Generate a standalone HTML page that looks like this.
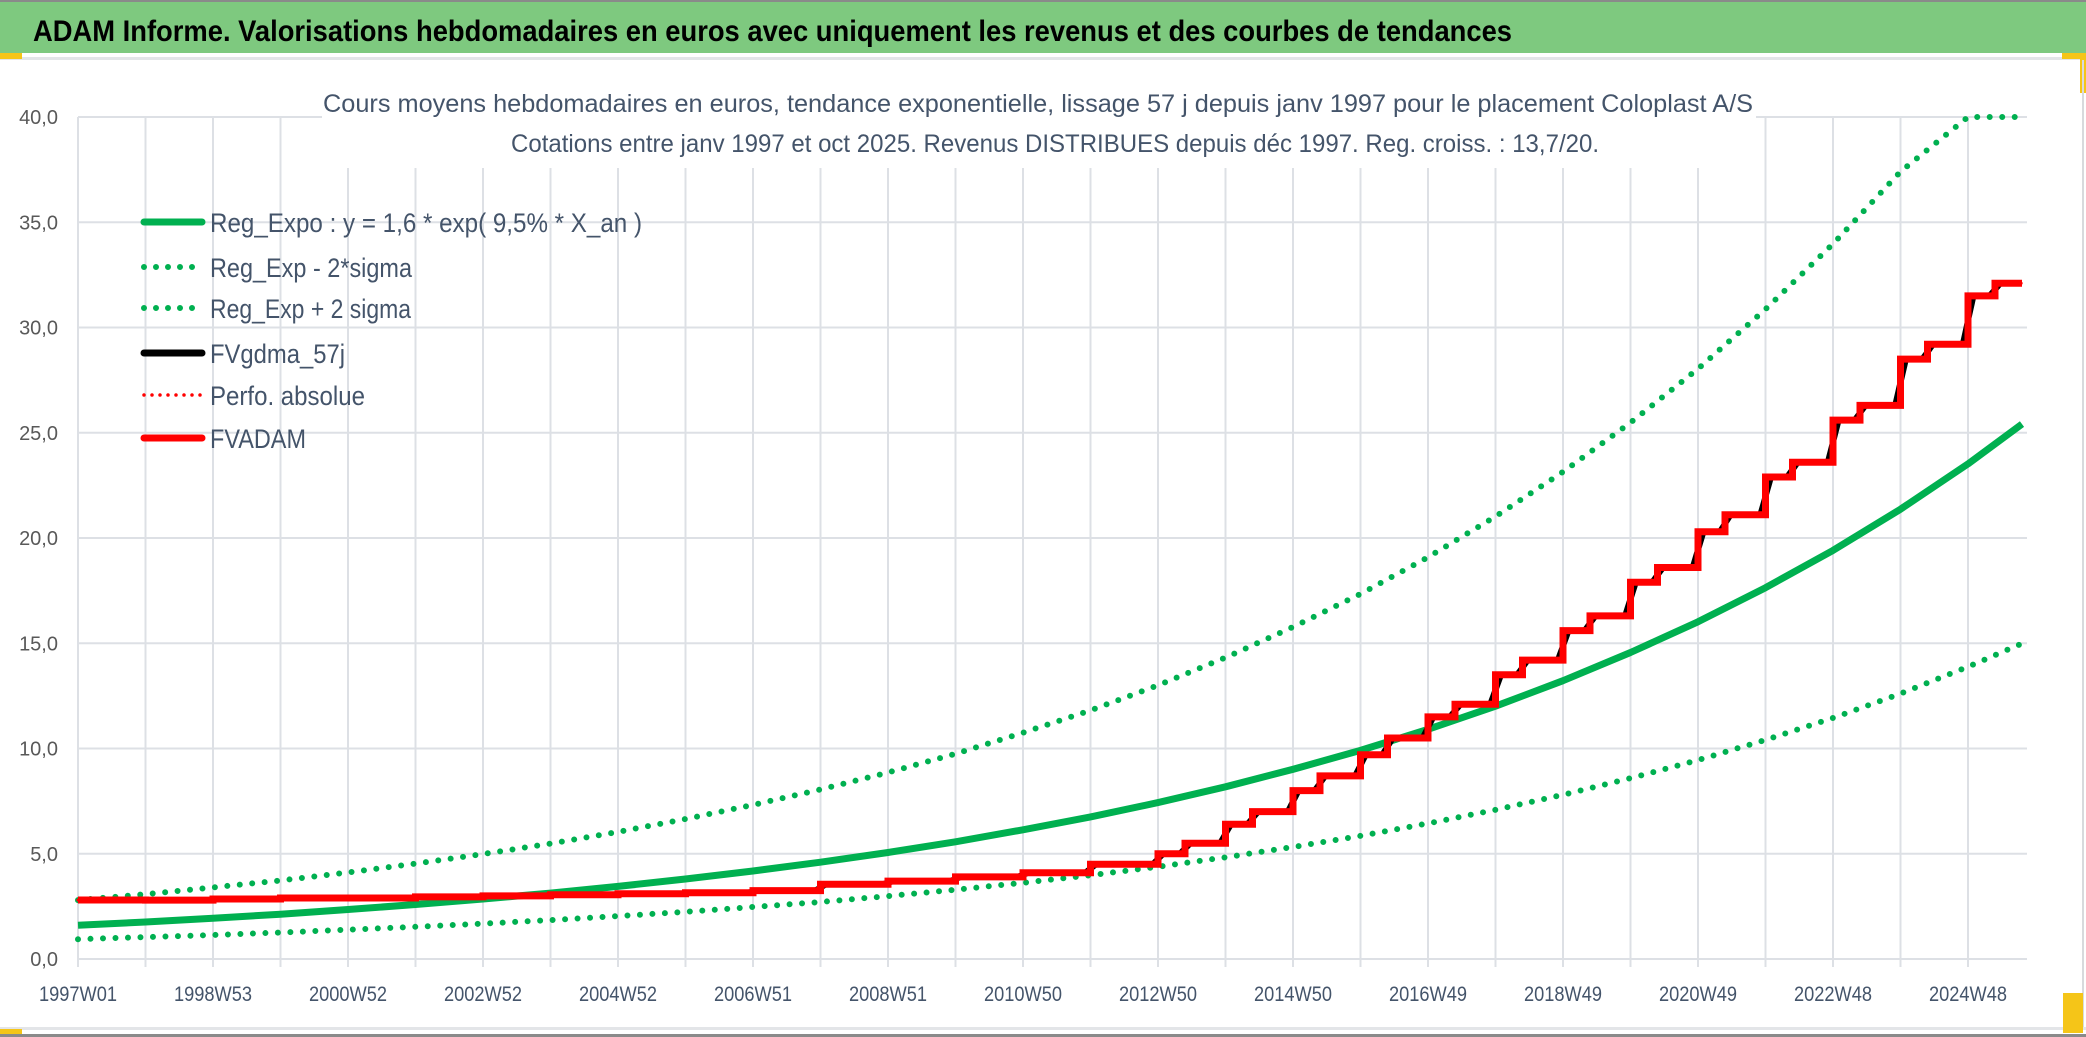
<!DOCTYPE html>
<html><head><meta charset="utf-8">
<style>
html,body{margin:0;padding:0;background:#fff;}
svg{display:block;font-family:"Liberation Sans",sans-serif;}
</style></head>
<body>
<svg id="chart" width="2086" height="1037" viewBox="0 0 2086 1037" xmlns="http://www.w3.org/2000/svg">
  <rect x="0" y="0" width="2086" height="1037" fill="#fff"/>
  <rect x="0" y="0" width="2086" height="53" fill="#7EC97F"/>
  <rect x="0" y="0" width="2086" height="2" fill="#8a8a8a"/>
  <rect x="0" y="57" width="2086" height="3" fill="#E3E5E8"/>
  <rect x="0" y="53" width="22" height="6" fill="#F5C518"/>
  <rect x="2062" y="53" width="24" height="6" fill="#F5C518"/>
  <rect x="2080" y="53" width="6" height="40" fill="#F5C518"/>
  <rect x="2082" y="60" width="2" height="970" fill="#D8DADD"/>
  <rect x="0" y="1027" width="2086" height="3" fill="#E3E5E8"/>
  <rect x="0" y="1034" width="2086" height="3" fill="#8a8a8a"/>
  <rect x="0" y="1029" width="22" height="5" fill="#F5C518"/>
  <rect x="2063" y="993" width="20" height="40" fill="#F5C518"/>
  <text x="33" y="41" font-size="30" font-weight="bold" fill="#000" textLength="1479" lengthAdjust="spacingAndGlyphs">ADAM Informe. Valorisations hebdomadaires en euros avec uniquement les revenus et des courbes de tendances</text>
  <g id="grid"></g>
  <rect x="322" y="86" width="1434" height="82" fill="#fff"/>
  <text x="323" y="112" font-size="25" fill="#44546A" textLength="1430" lengthAdjust="spacingAndGlyphs">Cours moyens hebdomadaires en euros, tendance exponentielle, lissage 57 j depuis janv 1997 pour le placement Coloplast A/S</text>
  <text x="511" y="152" font-size="25" fill="#44546A" textLength="1088" lengthAdjust="spacingAndGlyphs">Cotations entre janv 1997 et oct 2025. Revenus DISTRIBUES depuis déc 1997. Reg. croiss. : 13,7/20.</text>
  <g id="axes"></g>
  <g id="series"></g>
  <g id="legend"></g>
</svg>
<script>
// ---- data ----
const trendYears = [0,1,2,3,4,5,6,7,8,9,10,11,12,13,14,15,16,17,18,19,20,21,22,23,24,25,26,27,28,28.8];
const regExpo = [1.60,1.76,1.94,2.13,2.35,2.59,2.85,3.13,3.45,3.80,4.18,4.60,5.06,5.57,6.14,6.75,7.43,8.18,9.01,9.91,10.91,12.01,13.22,14.56,16.02,17.64,19.41,21.37,23.52,25.41];
const regPlus = [2.80,3.08,3.40,3.73,4.11,4.53,4.99,5.48,6.04,6.65,7.32,8.05,8.86,9.75,10.75,11.81,13.00,14.32,15.77,17.34,19.09,21.02,23.14,25.48,28.04,30.87,33.97,37.40,40.0,40.0];
const regMinus = [0.94,1.04,1.14,1.26,1.39,1.53,1.68,1.85,2.04,2.24,2.47,2.71,2.99,3.29,3.62,3.98,4.38,4.83,5.32,5.85,6.44,7.09,7.80,8.59,9.45,10.41,11.45,12.61,13.88,14.99];
const stepTimes = [0,1,2,3,4,5,6,7,8,9,10,11,12,13,14,15,16,16.4,17,17.4,18,18.4,19,19.4,20,20.4,21,21.4,22,22.4,23,23.4,24,24.4,25,25.4,26,26.4,27,27.4,28,28.4];
const stepValues = [2.80,2.80,2.85,2.90,2.90,2.95,3.00,3.05,3.10,3.15,3.25,3.55,3.70,3.90,4.10,4.50,5.00,5.50,6.40,7.00,8.00,8.70,9.70,10.50,11.50,12.10,13.50,14.20,15.60,16.30,17.90,18.60,20.30,21.10,22.90,23.60,25.60,26.30,28.50,29.20,31.50,32.10];
const endTime = 28.8;
const yTicks = [0,5,10,15,20,25,30,35,40];
const yTickLabels = ["0,0","5,0","10,0","15,0","20,0","25,0","30,0","35,0","40,0"];
const xTickYears = [0,2,4,6,8,10,12,14,16,18,20,22,24,26,28];
const xTickLabels = ["1997W01","1998W53","2000W52","2002W52","2004W52","2006W51","2008W51","2010W50","2012W50","2014W50","2016W49","2018W49","2020W49","2022W48","2024W48"];

// ---- axes ----
const X0 = 78, PXY = 67.5, XR = 2027, Y0 = 959, PXV = 21.05;
const sx = t => X0 + t * PXY;
const sy = v => Y0 - v * PXV;
const NS = "http://www.w3.org/2000/svg";
function mk(tag, attrs, parent){ const e=document.createElementNS(NS,tag); for(const k in attrs) e.setAttribute(k,attrs[k]); parent.appendChild(e); return e; }

const grid = document.getElementById('grid');
for (let k = 0; k <= 28; k++) {
  const l = mk('line',{x1:sx(k),x2:sx(k),y1:sy(40),y2:Y0+8,stroke:'#DDE0E5','stroke-width':2},grid);
  
  
}
yTicks.forEach(v => {
  const l = mk('line',{x1:X0,x2:XR,y1:sy(v),y2:sy(v),stroke:'#DDE0E5','stroke-width':2},grid);
  
  
});
const axes = document.getElementById('axes');
yTicks.forEach((v,i) => {
  const t = mk('text',{x:58,y:sy(v)+7,'font-size':20,fill:'#595959','text-anchor':'end'},axes);
  t.textContent = yTickLabels[i];
  
  
});
xTickYears.forEach((v,i) => {
  const t = mk('text',{x:sx(v)-39,y:1001,'font-size':21,fill:'#44546A',textLength:78,lengthAdjust:'spacingAndGlyphs'},axes);
  t.textContent = xTickLabels[i];
  
  
});

// ---- series ----
const ser = document.getElementById('series');
function pts(xs, ys){ return xs.map((t,i)=>sx(t).toFixed(1)+','+sy(ys[i]).toFixed(1)).join(' '); }
const pm = mk('polyline',{points:pts(trendYears,regMinus),fill:'none',stroke:'#00B050','stroke-width':6,'stroke-linecap':'round','stroke-dasharray':'0 12.5'},ser);


const pp = mk('polyline',{points:pts(trendYears,regPlus),fill:'none',stroke:'#00B050','stroke-width':6,'stroke-linecap':'round','stroke-dasharray':'0 12.5'},ser);


const pr = mk('polyline',{points:pts(trendYears,regExpo),fill:'none',stroke:'#00B050','stroke-width':7,'stroke-linejoin':'round'},ser);



function stepAt(t){ let v=stepValues[0]; for(let i=0;i<stepTimes.length;i++){ if(stepTimes[i]<=t) v=stepValues[i]; } return v; }
const wk = 1/52.18, win = 57/365;
const bx=[], by=[];
for(let t=0;t<=endTime+1e-9;t+=wk){
  let s=0,n=0;
  for(let u=Math.max(0,t-win/2);u<=Math.min(endTime,t+win/2)+1e-9;u+=wk/4){ s+=stepAt(u); n++; }
  bx.push(t); by.push(s/n);
}
const bl = mk('polyline',{points:pts(bx,by),fill:'none',stroke:'#000','stroke-width':6,'stroke-linejoin':'round'},ser);


let d = 'M'+sx(stepTimes[0])+','+sy(stepValues[0]);
for(let i=1;i<stepTimes.length;i++){ d+=' H'+sx(stepTimes[i]).toFixed(1)+' V'+sy(stepValues[i]).toFixed(1); }
d += ' H'+sx(endTime).toFixed(1);
const pa = mk('path',{d:d,fill:'none',stroke:'#FF0000','stroke-width':3,'stroke-dasharray':'0 8','stroke-linecap':'round'},ser);


const fr = mk('path',{d:d,fill:'none',stroke:'#FF0000','stroke-width':7,'stroke-linejoin':'miter'},ser);



// ---- legend ----
const lg = document.getElementById('legend');
const legNames = ["Reg_Expo : y = 1,6 * exp( 9,5% *  X_an )","Reg_Exp - 2*sigma","Reg_Exp + 2 sigma","FVgdma_57j","Perfo. absolue","FVADAM"];
const legWidths = [432,202,201,135,155,96];
const legY = [222,267,308,353,395,438];
const legStyles = [
  {stroke:'#00B050',w:7,dash:null},{stroke:'#00B050',w:6,dash:'0 12'},{stroke:'#00B050',w:6,dash:'0 12'},
  {stroke:'#000',w:7,dash:null},{stroke:'#FF0000',w:3.5,dash:'0 8'},{stroke:'#FF0000',w:7,dash:null}];
legNames.forEach((nm,i)=>{
  const g = mk('g',{},lg);
  
  
  const s = legStyles[i];
  const a = {x1:144,x2:202,y1:legY[i],y2:legY[i],stroke:s.stroke,'stroke-width':s.w,'stroke-linecap':'round'};
  if(s.dash) a['stroke-dasharray']=s.dash;
  const ln = mk('line',a,g);
  
  
  const tx = mk('text',{x:210,y:legY[i]+10,'font-size':27,fill:'#44546A',textLength:legWidths[i],lengthAdjust:'spacingAndGlyphs'},g);
  tx.textContent = nm;
  
  
});
</script>
</body></html>
